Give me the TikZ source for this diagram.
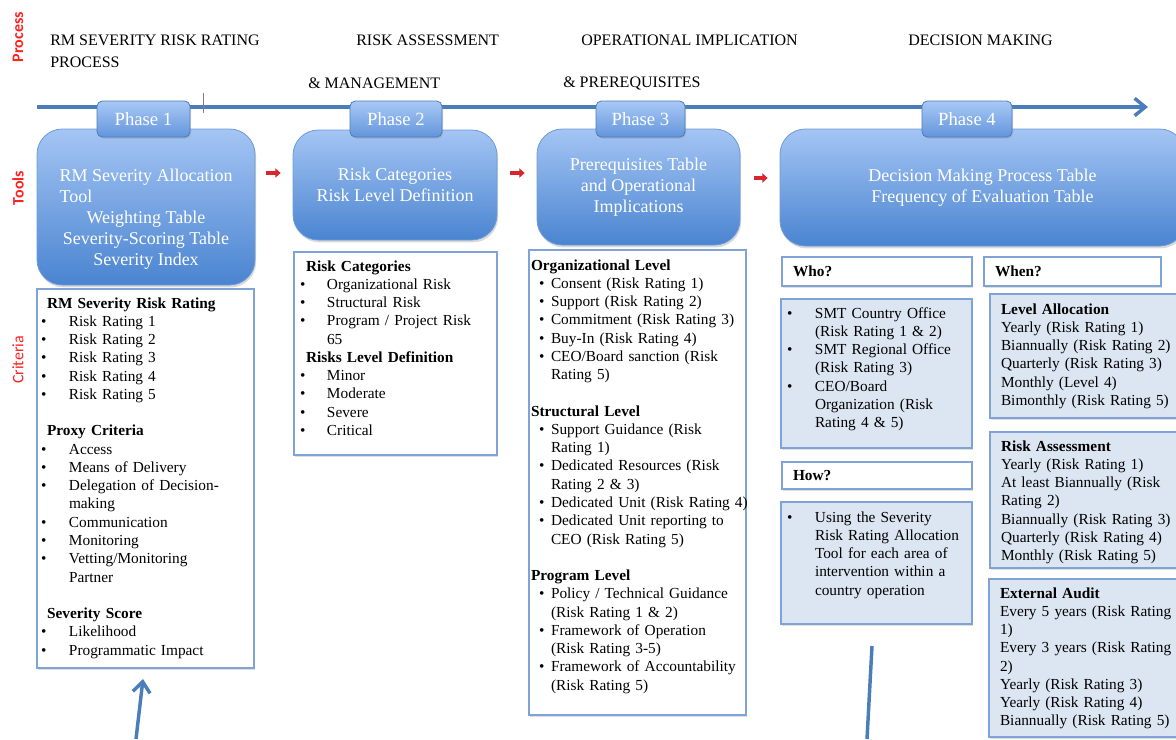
\documentclass[tikz,border=0pt]{standalone}
\usepackage{fontspec}
\setmainfont{Liberation Serif}
\newfontfamily\labelfont{Carlito}
\usetikzlibrary{arrows.meta,calc,shadows,positioning}
\definecolor{lineblue}{HTML}{4A7EBB}
\definecolor{boxedge}{HTML}{7FA3D6}
\definecolor{tooledge}{HTML}{6E9AD6}
\definecolor{toptone}{HTML}{A4C5F4}
\definecolor{lowtone}{HTML}{4A84D0}
\definecolor{phasetop}{HTML}{A9C9F6}
\definecolor{phaselow}{HTML}{6395DB}
\definecolor{paleblue}{HTML}{DCE6F2}
\definecolor{labelred}{HTML}{FF2020}
\definecolor{arrowred}{HTML}{D9262E}
\newlength{\bulw}
\newlength{\bulo}
\newcommand{\bul}[1]{\makebox[\bulw][l]{\hspace*{\bulo}\textbullet}\mbox{#1}}
\newcommand{\cont}[1]{\hspace*{\bulw}\mbox{#1}}
\newcommand{\bodyfont}{\fontsize{11.5}{13.7}\selectfont}
\tikzset{
    sidelabel/.style={rotate=90,text=labelred,inner sep=0pt,font=\labelfont\fontsize{12}{14}\selectfont},
    headtext/.style={anchor=west,inner sep=0pt,font=\fontsize{12}{14}\selectfont},
    timeline/.style={draw=lineblue,line width=2.6pt,-{Straight Barb[length=8pt,width=13pt]}},
    tickmark/.style={draw=gray,line width=0.5pt},
    phasebox/.style={draw=lineblue,line width=0.6pt,rounded corners=4pt,top color=phasetop,bottom color=phaselow,
        text=white,minimum height=27pt,inner sep=0pt,font=\fontsize{14}{16}\selectfont,
        drop shadow={shadow xshift=0.8pt,shadow yshift=-1.2pt,opacity=0.3}},
    toolbox/.style={draw=tooledge,line width=0.6pt,rounded corners=19pt,top color=toptone,bottom color=lowtone,
        text=white,align=center,inner sep=0pt,font=\fontsize{13.5}{15.75}\selectfont,
        drop shadow={shadow xshift=0.8pt,shadow yshift=-1.8pt,opacity=0.3}},
    tooltext/.style={text=white,align=center,inner sep=0pt,font=\fontsize{13.5}{15.75}\selectfont},
    critbox/.style 2 args={draw=boxedge,line width=0.8pt,fill=white,anchor=north west,align=left,
        inner ysep=0pt,outer sep=0pt,text height=#1,text depth=#2,font=\bodyfont,
        drop shadow={shadow xshift=0.8pt,shadow yshift=-1.2pt,opacity=0.25}},
    bullets/.style 2 args={execute at begin node={\setlength{\bulw}{#1}\setlength{\bulo}{#2}}},
    pale/.style={fill=paleblue},
    redarrow/.style={draw=arrowred,line width=3pt,-{Triangle[length=4pt,width=7pt]}},
    uparrow/.style={draw=lineblue,line width=2.6pt},
}

\begin{document}
\begin{tikzpicture}[x=0.75pt,y=-0.75pt]
    \useasboundingbox (0,0) rectangle (1176,739);
    \clip (0,0) rectangle (1176,739);

    \node[sidelabel] (lproc) at (18,37) {\bfseries Process};
    \node[sidelabel] (ltools) at (18,188) {\bfseries Tools};
    \node[sidelabel] (lcrit) at (18,360) {Criteria};

    \node[headtext] (hd1a) at (50,40) {RM SEVERITY RISK RATING};
    \node[headtext] (hd1b) at (50,62) {PROCESS};
    \node[headtext] (hd2a) at (356,40) {RISK ASSESSMENT};
    \node[headtext] (hd2b) at (308,83) {\& MANAGEMENT};
    \node[headtext] (hd3a) at (581,40) {OPERATIONAL IMPLICATION};
    \node[headtext] (hd3b) at (563,83) {\& PREREQUISITES};
    \node[headtext] (hd4a) at (908,40) {DECISION MAKING};

    \coordinate (tl0) at (37,107);
    \coordinate (tl1) at (1148,107);
    \draw[timeline] (tl0) -- (tl1);
    \coordinate (tk0) at (203,93);
    \coordinate (tk1) at (203,113);
    \draw[tickmark] (tk0) -- (tk1);

    \node[toolbox,minimum width=163.5pt,minimum height=117pt] (t1) at (146,207) {};
    \node[tooltext] (t1txt) at ($(t1)+(0,12)$) {RM Severity Allocation\\
        \rlap{Tool}\phantom{RM Severity Allocation}\\
        Weighting Table\\
        Severity-Scoring Table\\
        Severity Index};
    \node[toolbox,minimum width=153pt,minimum height=82.5pt] (t2) at (395,185)
        {Risk Categories\\Risk Level Definition};
    \node[toolbox,minimum width=152.25pt,minimum height=87pt] (t3) at (638.5,187)
        {Prerequisites Table\\and Operational\\Implications};
    \node[toolbox,minimum width=303.75pt,minimum height=87.75pt] (t4) at (982.5,187.5)
        {Decision Making Process Table\\Frequency of Evaluation Table};

    \node[phasebox,minimum width=69.75pt] (p1) at (143.5,119) {Phase 1};
    \node[phasebox,minimum width=69pt] (p2) at (396,119) {Phase 2};
    \node[phasebox,minimum width=66.75pt] (p3) at (640.5,119) {Phase 3};
    \node[phasebox,minimum width=67.5pt] (p4) at (967,119) {Phase 4};

    \draw[redarrow] ($(t1.east)+(11,-34)$) -- ($(t2.west)+(-12,-12)$);
    \draw[redarrow] ($(t2.east)+(13,-12)$) -- ($(t3.west)+(-12,-14)$);
    \draw[redarrow] ($(t3.east)+(14,-9)$) -- ($(t4.west)+(-12,-9.5)$);

    \node[critbox={14.25pt}{270pt},bullets={21pt}{0pt},inner xsep=3pt,text width=156.75pt] (c1) at (37,289) {%
        \hspace*{4.5pt}\textbf{RM Severity Risk Rating}\\
        \bul{Risk Rating 1}\\
        \bul{Risk Rating 2}\\
        \bul{Risk Rating 3}\\
        \bul{Risk Rating 4}\\
        \bul{Risk Rating 5}\\[13.7pt]
        \hspace*{4.5pt}\textbf{Proxy Criteria}\\
        \bul{Access}\\
        \bul{Means of Delivery}\\
        \bul{Delegation of Decision-}\\
        \cont{making}\\
        \bul{Communication}\\
        \bul{Monitoring}\\
        \bul{Vetting/Monitoring}\\
        \cont{Partner}\\[13.7pt]
        \hspace*{4.5pt}\textbf{Severity Score}\\
        \bul{Likelihood}\\
        \bul{Programmatic Impact}};

    \node[critbox={14.25pt}{138pt},bullets={20.25pt}{0pt},inner xsep=4.5pt,text width=143.25pt] (c2) at (294,252) {%
        \hspace*{4.5pt}\textbf{Risk Categories}\\
        \bul{Organizational Risk}\\
        \bul{Structural Risk}\\
        \bul{Program / Project Risk}\\
        \cont{65}\\
        \hspace*{4.5pt}\textbf{Risks Level Definition}\\
        \bul{Minor}\\
        \bul{Moderate}\\
        \bul{Severe}\\
        \bul{Critical}};

    \node[critbox={15pt}{333.75pt},bullets={15pt}{6pt},inner xsep=1.5pt,text width=159.75pt] (c3) at (529,250) {%
        \textbf{Organizational Level}\\
        \bul{Consent (Risk Rating 1)}\\
        \bul{Support (Risk Rating 2)}\\
        \bul{Commitment (Risk Rating 3)}\\
        \bul{Buy-In (Risk Rating 4)}\\
        \bul{CEO/Board sanction (Risk}\\
        \cont{Rating 5)}\\[13.7pt]
        \textbf{Structural Level}\\
        \bul{Support Guidance (Risk}\\
        \cont{Rating 1)}\\
        \bul{Dedicated Resources (Risk}\\
        \cont{Rating 2 \& 3)}\\
        \bul{Dedicated Unit (Risk Rating 4)}\\
        \bul{Dedicated Unit reporting to}\\
        \cont{CEO (Risk Rating 5)}\\[13.7pt]
        \textbf{Program Level}\\
        \bul{Policy / Technical Guidance}\\
        \cont{(Risk Rating 1 \& 2)}\\
        \bul{Framework of Operation}\\
        \cont{(Risk Rating 3-5)}\\
        \bul{Framework of Accountability}\\
        \cont{(Risk Rating 5)}};

    \node[critbox={14.25pt}{7.5pt},inner xsep=8.25pt,text width=126pt] (whoh) at (782,257) {\textbf{Who?}};
    \node[critbox={14.25pt}{97.5pt},pale,bullets={21pt}{0pt},inner xsep=4.5pt,text width=134.25pt] (who) at (781,299) {%
        \bul{SMT Country Office}\\
        \cont{(Risk Rating 1 \& 2)}\\
        \bul{SMT Regional Office}\\
        \cont{(Risk Rating 3)}\\
        \bul{CEO/Board}\\
        \cont{Organization (Risk}\\
        \cont{Rating 4 \& 5)}};
    \node[critbox={13.5pt}{6.75pt},inner xsep=8.25pt,text width=126pt] (howh) at (782,462) {\textbf{How?}};
    \node[critbox={15pt}{76.5pt},pale,bullets={21pt}{0pt},inner xsep=4.5pt,text width=134.25pt] (how) at (781,502) {%
        \bul{Using the Severity}\\
        \cont{Risk Rating Allocation}\\
        \cont{Tool for each area of}\\
        \cont{intervention within a}\\
        \cont{country operation}};

    \node[critbox={14.25pt}{7.5pt},inner xsep=8.25pt,text width=116.25pt] (whenh) at (984,257) {\textbf{When?}};
    \node[critbox={15pt}{78pt},pale,inner xsep=8.25pt,text width=133.5pt] (lvl) at (990,294) {%
        \textbf{Level Allocation}\\
        Yearly (Risk Rating 1)\\
        Biannually (Risk Rating 2)\\
        Quarterly (Risk Rating 3)\\
        Monthly (Level 4)\\
        Bimonthly (Risk Rating 5)};
    \node[critbox={14.25pt}{87.75pt},pale,inner xsep=8.25pt,text width=133.5pt] (ra) at (990,432) {%
        \textbf{Risk Assessment}\\
        Yearly (Risk Rating 1)\\
        At least Biannually (Risk\\
        Rating 2)\\
        Biannually (Risk Rating 3)\\
        Quarterly (Risk Rating 4)\\
        Monthly (Risk Rating 5)};
    \node[critbox={14.25pt}{104.25pt},pale,inner xsep=8.25pt,text width=133.5pt] (ea) at (989,579) {%
        \textbf{External Audit}\\
        Every 5 years (Risk Rating\\
        1)\\
        Every 3 years (Risk Rating\\
        2)\\
        Yearly (Risk Rating 3)\\
        Yearly (Risk Rating 4)\\
        Biannually (Risk Rating 5)};

    \coordinate (up1) at (136,739);
    \draw[uparrow,-{Straight Barb[length=8pt,width=13pt]}] (up1) -- ($(c1.south)+(-2.5,11)$);
    \coordinate (up2) at (867,739);
    \draw[uparrow] (up2) -- ($(how.south)+(-4.5,22)$);
\end{tikzpicture}
\end{document}
